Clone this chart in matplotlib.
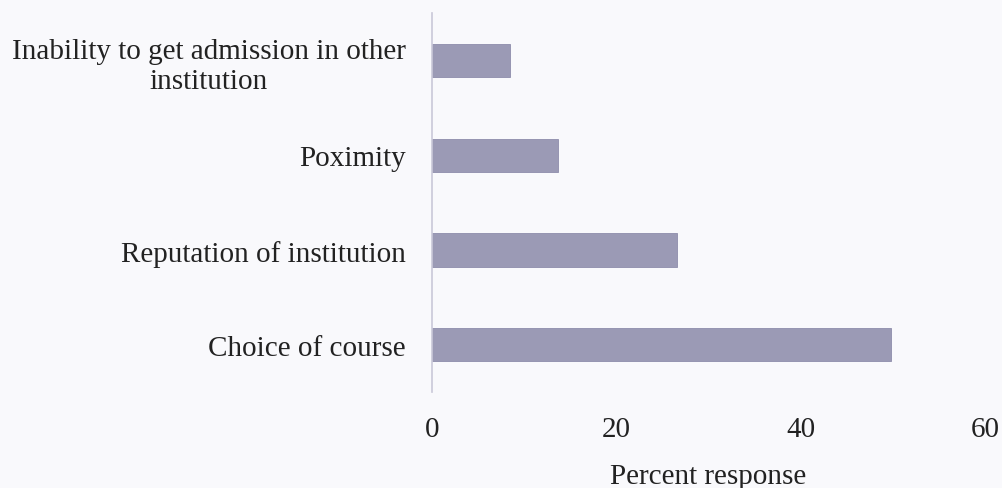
import matplotlib.pyplot as plt
import numpy as np

plt.rcParams["font.family"] = ["Liberation Serif", "DejaVu Serif"]

categories = [
    "Choice of course",
    "Reputation of institution",
    "Poximity",
    "Inability to get admission in other\ninstitution",
]
percent = [49.8, 26.6, 13.7, 8.5]
xticks = [0, 20, 40, 60]

bg = "#f9f9fc"
fig = plt.figure(figsize=(10.02, 4.89), dpi=100, facecolor=bg)
ax = fig.add_axes([0.431, 0.196, 0.552, 0.775], facecolor=bg)

y = np.arange(len(categories))
ax.barh(y, percent, height=0.35, color="#9b9ab5", edgecolor="#8e8dab", linewidth=0.6)

ax.set_xlim(0, 60)
ax.set_ylim(-0.5, len(categories) - 0.5)
ax.set_xticks(xticks)
ax.set_xticklabels([str(v) for v in xticks])
ax.set_yticks(y)
ax.set_yticklabels(categories, multialignment="center")
ax.tick_params(axis="both", length=0, labelsize=21, colors="#222222")
ax.tick_params(axis="y", pad=19)
ax.tick_params(axis="x", pad=17)
ax.set_xlabel("Percent response", fontsize=21, color="#222222", labelpad=15)

for side in ["top", "right", "bottom"]:
    ax.spines[side].set_visible(False)
ax.spines["left"].set_color("#c9c8d8")
ax.spines["left"].set_linewidth(1.2)

fig.savefig("out.png", dpi=100, facecolor=bg)
